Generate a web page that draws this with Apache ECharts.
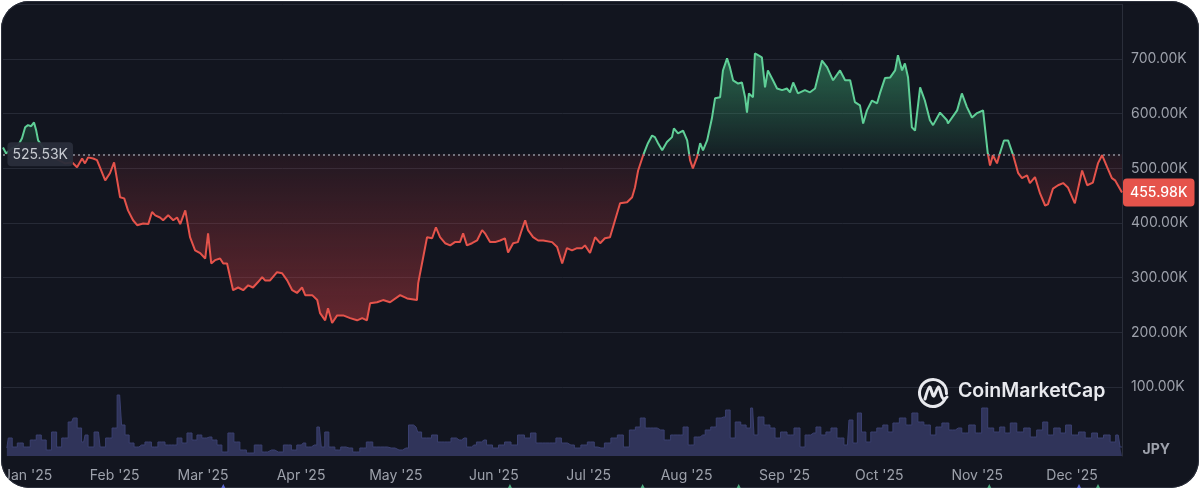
<!DOCTYPE html>
<html>
<head>
<meta charset="utf-8">
<script src="https://cdn.jsdelivr.net/npm/echarts@6/dist/echarts.min.js"></script>
<style>
  html, body { margin: 0; padding: 0; background: #ffffff; }
  .card {
    position: absolute; left: 1px; top: 1px; width: 1198px; height: 487px;
    border-radius: 28px; background: #12151f; overflow: hidden;
    box-shadow: inset 0 0 0 1px #2b2f3b;
  }
  #chart { position: absolute; left: -1px; top: -1px; width: 1200px; height: 489px; }
</style>
</head>
<body>
<div class="card"><div id="chart"></div></div>
<script>
  // price in thousand JPY, days counted from 1 Jan 2025
  const basePrice = 525.53
  const lastPrice = 455.98
  const monthNames = ['Jan','Feb','Mar','Apr','May','Jun','Jul','Aug','Sep','Oct','Nov','Dec']
  const rangeDays = [-3.8, 349.8]

  const priceDays = [-3.8,-2.8,-0.9,1.0,2.2,3.2,4.1,5.1,6.0,6.7,
    7.3,9.5,12.7,15.8,18.0,19.6,21.2,22.1,23.1,24.7,
    25.9,28.5,30.0,31.3,33.2,34.5,35.7,37.3,38.6,40.5,
    42.1,43.3,44.3,45.8,46.8,48.4,50.0,51.2,52.2,53.8,
    55.3,56.9,58.5,60.1,61.0,62.0,63.2,64.8,65.8,67.0,
    68.9,70.5,72.1,73.7,75.2,76.8,78.1,79.0,80.6,82.8,
    84.4,86.0,87.6,89.1,90.7,91.7,93.9,95.5,96.4,98.0,
    98.9,100.2,101.8,103.7,105.9,108.1,109.7,111.2,112.2,114.4,
    116.3,118.5,121.7,123.9,127.0,127.4,128.6,130.2,131.8,133.0,
    134.3,135.9,137.5,139.0,140.6,141.6,142.8,144.4,146.0,147.6,
    148.5,150.1,151.7,153.3,154.8,155.8,157.4,158.9,159.9,161.2,
    162.1,163.7,165.3,166.9,169.7,171.3,172.9,174.4,176.0,177.6,
    179.2,180.1,181.7,183.3,184.9,186.4,188.0,189.6,191.2,193.4,
    195.0,195.9,196.9,198.5,200.0,201.3,202.2,203.2,204.5,206.0,
    207.6,208.2,209.5,211.1,212.4,213.3,214.2,215.5,216.5,217.4,
    218.7,220.2,221.2,222.8,223.7,225.0,225.9,226.9,228.5,229.7,
    230.7,231.3,231.9,233.2,233.8,234.8,236.0,237.0,237.9,239.5,
    240.8,242.4,243.9,244.9,245.9,247.4,249.6,251.2,252.8,255.0,
    256.6,258.5,260.7,262.3,263.9,265.4,267.0,268.0,269.2,270.8,
    272.4,273.3,274.9,276.5,278.1,279.0,280.3,281.2,282.2,283.4,
    284.4,286.0,287.5,289.1,290.1,292.3,294.5,294.8,297.7,299.2,
    300.8,302.4,304.0,305.9,307.4,308.1,309.0,310.3,311.2,312.5,
    313.8,315.4,317.0,318.2,319.8,320.7,322.3,323.9,325.5,326.4,
    328.0,329.6,331.2,332.7,334.9,337.2,338.8,340.6,342.2,343.5,
    345.1,346.6,347.6,349.8]
  const priceK = [538,527,537,542,555,575,579,577,584,569,
    551,533,518,509,511,502,518,509,520,518,
    515,478,491,511,447,445,423,405,396,399,
    398,420,414,410,405,414,405,410,398,423,
    374,350,345,335,381,326,332,335,326,326,
    277,282,277,286,282,292,301,295,295,310,
    308,295,277,272,282,268,268,259,235,222,
    244,217,231,231,226,222,226,222,253,255,
    259,255,268,262,259,290,326,374,372,392,
    374,363,359,365,365,381,359,363,368,387,
    381,365,365,368,372,346,363,365,383,405,
    387,374,368,368,365,356,326,354,350,354,
    354,359,345,374,363,372,374,405,436,438,
    447,465,496,524,546,560,557,546,533,548,
    557,573,564,569,551,515,500,520,546,533,
    551,591,628,630,679,701,685,661,655,657,
    630,602,637,630,710,707,703,648,679,661,
    646,643,646,639,657,637,643,639,646,697,
    685,661,679,661,661,621,615,582,606,624,
    619,637,665,666,679,707,679,692,666,575,
    569,648,624,588,579,602,588,582,606,637,
    612,593,601,606,527,505,524,509,527,551,
    551,524,491,482,487,473,484,454,432,434,
    463,469,473,465,436,496,469,474,509,524,
    502,482,478,lastPrice]

  const volDays = [-3.1,-2.2,-0.6,1.0,3.2,5.4,7.0,8.6,10.1,12.0,
    13.3,15.2,17.4,18.4,19.9,21.2,22.1,23.1,25.9,26.9,
    29.4,31.0,32.6,33.8,34.8,36.4,37.9,39.5,41.7,43.6,
    45.8,48.1,50.0,51.5,53.1,54.7,56.3,57.8,59.4,61.0,
    62.6,64.2,65.7,68.0,69.5,71.8,73.6,76.8,78.4,80.6,
    82.8,86.0,87.9,89.4,90.7,92.3,94.2,95.8,97.0,98.0,
    99.6,101.8,103.3,105.2,107.5,109.7,111.6,113.8,116.3,118.5,
    121.0,123.2,124.8,126.4,127.4,128.9,130.5,132.1,134.3,136.5,
    138.4,140.0,141.6,143.2,144.7,146.3,147.9,149.5,151.7,153.3,
    155.5,157.4,159.6,161.8,163.4,165.3,167.5,169.7,171.6,173.2,
    175.4,177.6,179.5,181.7,183.9,184.9,187.1,189.0,191.2,192.8,
    195.0,196.6,198.1,199.7,201.6,203.8,206.0,207.9,210.1,211.7,
    213.3,215.5,217.1,218.7,220.6,222.2,223.7,225.0,226.6,228.2,
    230.1,231.6,232.9,233.8,235.4,237.6,239.2,240.8,242.7,244.9,
    247.1,248.7,250.3,252.2,253.7,255.3,256.9,258.5,260.7,262.9,
    263.9,265.4,266.7,268.0,269.5,271.1,273.3,274.9,276.5,278.1,
    280.6,282.2,284.4,286.0,288.2,290.1,291.7,293.9,296.1,298.0,
    300.2,302.4,304.3,306.5,308.1,310.3,311.9,313.5,315.4,317.6,
    319.8,321.7,323.9,325.5,327.1,329.3,331.2,332.7,334.9,337.2,
    339.1,341.3,342.8,345.1,347.0,348.6,349.8]
  const volume = [8,18,9,13,9,16,21,16,6,24,
    9,18,34,38,28,14,21,9,24,9,
    18,28,61,31,21,13,9,11,14,9,
    14,11,11,18,13,23,16,21,18,19,
    16,11,4,23,14,6,3,11,4,6,
    4,11,6,11,13,9,11,29,9,24,
    9,6,9,8,4,8,14,9,9,8,
    6,8,31,29,24,18,18,21,14,14,
    18,16,18,9,11,14,16,11,8,11,
    14,11,21,18,23,13,13,13,18,13,
    11,8,11,14,9,8,13,18,21,9,
    26,29,38,28,28,26,16,21,21,29,
    11,19,21,26,29,38,39,46,18,34,
    31,28,48,21,39,31,28,18,24,21,
    28,9,21,23,29,21,24,28,18,11,
    36,13,43,24,14,24,28,31,24,33,
    38,31,43,34,31,21,29,33,26,28,
    23,31,23,48,28,24,29,23,33,24,
    28,19,26,34,21,28,23,31,21,24,
    18,23,18,21,14,21,9]

  // event markers peeking out under the date axis
  const eventDays = [65.4, 156.1, 198.1, 228.5, 307.8, 336.2, 342.2]
  const eventKinds = ['blue', 'green', 'green', 'green', 'green', 'blue', 'green']

  const DAY = 86400000
  const t0 = new Date(2025, 0, 1).getTime()
  const toTime = d => t0 + d * DAY
  const monthStarts = monthNames.map((m, i) => new Date(2025, i, 1).getTime())

  const green = '#5fcf97'
  const red = '#e5534b'
  const blue = '#6f7dff'
  const maxV = Math.max(...priceK), minV = Math.min(...priceK)
  const f = (maxV - basePrice) / (maxV - minV)

  const lineColor = new echarts.graphic.LinearGradient(0, 0, 0, 1, [
    { offset: 0, color: green }, { offset: f, color: green },
    { offset: f, color: red }, { offset: 1, color: red }
  ])
  const areaColor = new echarts.graphic.LinearGradient(0, 0, 0, 1, [
    { offset: 0, color: 'rgba(60,170,115,0.55)' }, { offset: f, color: 'rgba(60,170,115,0.08)' },
    { offset: f, color: 'rgba(200,60,65,0.09)' }, { offset: 1, color: 'rgba(200,60,65,0.45)' }
  ])

  const font = 'Inter, Roboto, sans-serif'
  const myChart = echarts.init(document.getElementById('chart'))
  myChart.setOption({
    animation: false,
    backgroundColor: 'transparent',
    grid: [
      { left: 3, right: 78, top: 4.3, bottom: 102 },
      { left: 3, right: 78, top: 386, bottom: 33 }
    ],
    xAxis: [
      {
        type: 'value', gridIndex: 0, min: toTime(rangeDays[0]), max: toTime(rangeDays[1]),
        axisLine: { show: false }, axisTick: { show: false }, axisLabel: { show: false },
        splitLine: { show: false }
      },
      {
        type: 'value', gridIndex: 1, min: toTime(rangeDays[0]), max: toTime(rangeDays[1]),
        axisLine: { show: false }, axisTick: { show: false }, splitLine: { show: false },
        axisLabel: {
          customValues: monthStarts,
          color: '#9da1ab', fontSize: 14, fontFamily: font, margin: 13,
          formatter: function (val) {
            const d = new Date(val)
            const txt = monthNames[d.getMonth()] + " '" + String(d.getFullYear()).slice(2)
            // first label is pushed inside the plot
            return d.getMonth() === 0 ? '{first|' + txt + '}' : txt
          },
          rich: {
            first: { padding: [0, 0, 0, 22], color: '#9da1ab', fontSize: 14, fontFamily: font }
          }
        }
      }
    ],
    yAxis: [
      {
        type: 'value', gridIndex: 0, position: 'right', min: 100, max: 800, interval: 100,
        axisLine: { show: true, lineStyle: { color: '#2a2e3a' } },
        axisTick: { show: false },
        splitLine: { lineStyle: { color: '#262a36', width: 1 } },
        axisLabel: {
          showMaxLabel: false, color: '#9da1ab', fontSize: 14, fontFamily: font, margin: 9,
          formatter: v => v.toFixed(2) + 'K'
        }
      },
      {
        type: 'value', gridIndex: 1, position: 'right', min: 0, max: 70,
        axisLine: { show: true, lineStyle: { color: '#2a2e3a' } },
        axisTick: { show: false }, axisLabel: { show: false }, splitLine: { show: false }
      }
    ],
    series: [
      {
        name: 'volume', type: 'line', xAxisIndex: 1, yAxisIndex: 1,
        step: 'middle', symbol: 'none', z: 1,
        data: volDays.map((d, i) => [toTime(d), volume[i]]),
        lineStyle: { width: 1, color: '#3b4070' },
        areaStyle: { color: '#30345a', opacity: 1 }
      },
      {
        name: 'events', type: 'scatter', xAxisIndex: 1, yAxisIndex: 1,
        symbol: 'triangle', symbolSize: 12, clip: false, z: 2,
        data: eventDays.map((d, i) => ({
          value: [toTime(d), -34],
          itemStyle: { color: eventKinds[i] === 'blue' ? blue : green }
        }))
      },
      {
        name: 'price', type: 'line', xAxisIndex: 0, yAxisIndex: 0,
        symbol: 'none', z: 3,
        data: priceDays.map((d, i) => [toTime(d), priceK[i]]),
        lineStyle: { width: 2, color: lineColor },
        areaStyle: { origin: basePrice, color: areaColor, opacity: 1 },
        markLine: {
          silent: true, symbol: ['none', 'none'], animation: false,
          data: [
            {
              yAxis: basePrice,
              lineStyle: { type: [2, 3], color: '#8d919b', width: 1.5 },
              label: {
                position: 'start', distance: -70, formatter: basePrice.toFixed(2) + 'K',
                color: '#c8cbd2', fontSize: 14, fontFamily: font,
                backgroundColor: 'rgba(42,46,58,0.96)', padding: [5, 5], borderRadius: 4
              }
            },
            {
              yAxis: lastPrice,
              lineStyle: { color: 'rgba(0,0,0,0)', width: 0 },
              label: {
                show: true, position: 'end', distance: 1, formatter: lastPrice.toFixed(2) + 'K',
                color: '#ffffff', fontSize: 14, fontFamily: font, fontWeight: 500,
                backgroundColor: red, padding: [7, 7], borderRadius: 4
              }
            }
          ]
        }
      }
    ],
    graphic: [
      {
        type: 'text', right: 30, top: 443, z: 10,
        style: { text: 'JPY', fill: '#9da1ab', font: 'bold 14px ' + font }
      },
      {
        type: 'arc', x: 933, y: 393, z: 10,
        shape: { cx: 0, cy: 0, r: 13.5, startAngle: 0.45, endAngle: Math.PI * 2 + 0.05 },
        style: { stroke: '#e8e9ee', lineWidth: 3, fill: null, lineCap: 'round' }
      },
      {
        type: 'polyline', x: 918, y: 378, z: 10,
        shape: { points: [[7, 21], [11.5, 9], [15, 17.5], [16, 18], [20.5, 9], [24, 19], [26, 21], [29, 19]], smooth: 0.3 },
        style: { stroke: '#e8e9ee', lineWidth: 3, fill: null, lineCap: 'round', lineJoin: 'round' }
      },
      {
        type: 'text', x: 958, y: 381, z: 10,
        style: { text: 'CoinMarketCap', fill: '#e8e9ee', font: '600 19.5px ' + font }
      }
    ]
  })
</script>
</body>
</html>
